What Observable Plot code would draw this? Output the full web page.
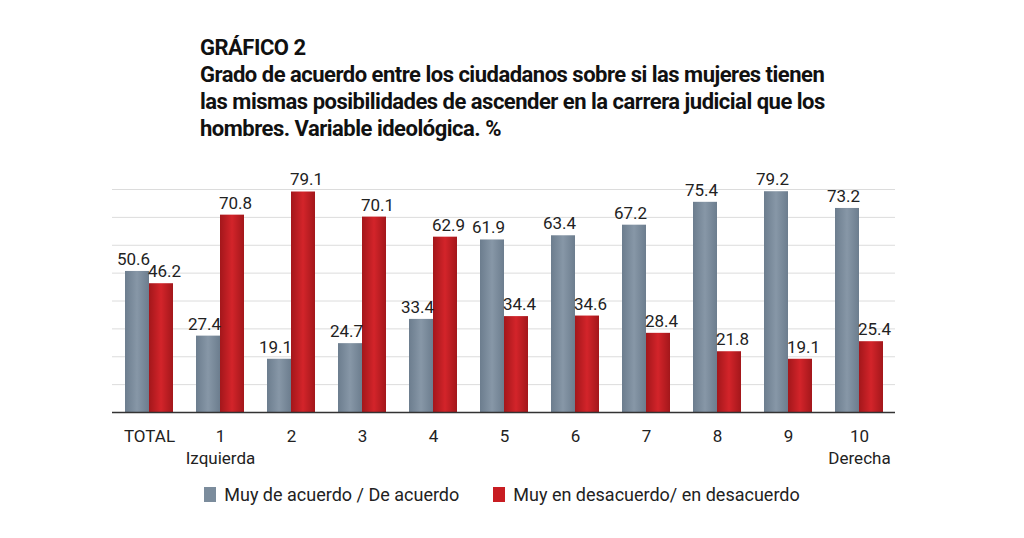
<!DOCTYPE html>
<html><head><meta charset="utf-8">
<script src="https://cdn.jsdelivr.net/npm/d3@7"></script>
<script src="https://cdn.jsdelivr.net/npm/@observablehq/plot@0.6"></script>
<style>
body{margin:0;background:#fff;font-family:Roboto,sans-serif;width:1024px;}
#title{height:150px;box-sizing:border-box;padding:34px 0 0 200px;font-weight:bold;font-size:22px;line-height:27px;color:#111;letter-spacing:-0.5px}
#legend{display:flex;justify-content:center;gap:34px;font-size:18px;color:#222;margin-top:12px;margin-left:-20px}
#legend span{display:inline-flex;align-items:center;gap:8px}
#legend i{display:inline-block;width:12px;height:15px}
</style></head><body>
<div id="title">GRÁFICO 2<br>Grado de acuerdo entre los ciudadanos sobre si las mujeres tienen<br>las mismas posibilidades de ascender en la carrera judicial que los<br>hombres. Variable ideológica. %</div>
<div id="chart"></div>
<div id="legend"><span><i style="background:#7b8c9c"></i>Muy de acuerdo / De acuerdo</span><span><i style="background:#c81d22"></i>Muy en desacuerdo/ en desacuerdo</span></div>
<script>
const categories = ["TOTAL","1\nIzquierda","2","3","4","5","6","7","8","9","10\nDerecha"];
const acuerdo = [50.6,27.4,19.1,24.7,33.4,61.9,63.4,67.2,75.4,79.2,73.2];
const desacuerdo = [46.2,70.8,79.1,70.1,62.9,34.4,34.6,28.4,21.8,19.1,25.4];
const gridTicks = [10,20,30,40,50,60,70,80];
const A = categories.map((c,i)=>({c,v:acuerdo[i]}));
const D = categories.map((c,i)=>({c,v:desacuerdo[i]}));
const half = 24;
const chart = Plot.plot({
  width:1024, height:322, marginLeft:112, marginRight:129, marginTop:39, marginBottom:60,
  style:{fontFamily:"Roboto, sans-serif", fontSize:"17px", color:"#222"},
  x:{domain:categories, paddingInner:0.326, paddingOuter:0.16, label:null},
  y:{domain:[0,80], axis:null},
  marks:[
    Plot.ruleY(gridTicks,{stroke:"#dcdcdc"}),
    Plot.barY(A,{x:"c",y:"v",fill:"url(#gGray)",insetRight:half}),
    Plot.barY(D,{x:"c",y:"v",fill:"url(#gRed)",insetLeft:half}),
    Plot.text(A,{x:"c",y:"v",text:d=>d.v.toFixed(1),dx:-half/2-4,dy:-12,fontSize:17,fill:"#222"}),
    Plot.text(D,{x:"c",y:"v",text:d=>d.v.toFixed(1),dx:half/2+3,dy:-12,fontSize:17,fill:"#222"}),
    Plot.axisX({tickSize:0,tickPadding:14,fontSize:17,lineHeight:1.3,label:null,fill:"#222"}),
    Plot.ruleY([0],{stroke:"#333",strokeWidth:1.5})
  ]
});
const svg = d3.select(chart);
const defs = svg.insert("defs",":first-child");
function grad(id,edge,mid){
  const g=defs.append("linearGradient").attr("id",id).attr("x1","0").attr("x2","1").attr("y1","0").attr("y2","0");
  g.append("stop").attr("offset","0").attr("stop-color",edge);
  g.append("stop").attr("offset","0.5").attr("stop-color",mid);
  g.append("stop").attr("offset","1").attr("stop-color",edge);
}
grad("gGray","#6c7d8e","#8797a7");
grad("gRed","#a3171b","#d3242a");
document.getElementById("chart").appendChild(chart);
</script></body></html>
